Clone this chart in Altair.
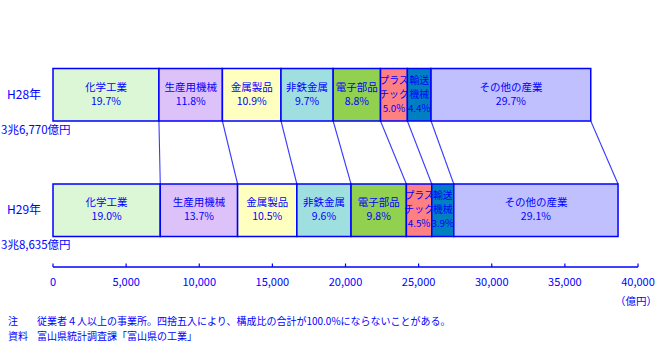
import altair as alt
import pandas as pd

# ---------------- data ----------------
years = ["H28年", "H29年"]
total_labels = ["3兆6,770億円", "3兆8,635億円"]
totals = [36770, 38635]
categories = ["化学工業", "生産用機械", "金属製品", "非鉄金属", "電子部品",
              "プラスチック", "輸送機械", "その他の産業"]
display_names = ["化学工業", "生産用機械", "金属製品", "非鉄金属", "電子部品",
                 "プラス\nチック", "輸送\n機械", "その他の産業"]
pct_h28 = [19.7, 11.8, 10.9, 9.7, 8.8, 5.0, 4.4, 29.7]
pct_h29 = [19.0, 13.7, 10.5, 9.6, 9.8, 4.5, 3.9, 29.1]
x_ticks = [0, 5000, 10000, 15000, 20000, 25000, 30000, 35000, 40000]
note_heads = ["注", "資料"]
note_texts = ["従業者４人以上の事業所。四捨五入により、構成比の合計が100.0%にならないことがある。",
              "富山県統計調査課「富山県の工業」"]
unit_label = "（億円）"

# ---------------- styles / layout ----------------
colors = ["#dcf7d6", "#dcc2f8", "#ffffc0", "#a0dfe0", "#92d050",
          "#ff8080", "#0080c0", "#c0c0ff"]
BLUE = "#0000ff"
FONT = "Noto Sans CJK JP"
bar_top = [68.5, 184.0]
bar_bottom = [121.0, 236.5]
axis_y = 267.0
LINE_H = 14.0
PLOT_W, PLOT_H = 585, 267

# ---------------- tables ----------------
rows = []
text_rows = []
ends = []
for yi, (yr, tot, pcts) in enumerate(zip(years, totals, [pct_h28, pct_h29])):
    s = sum(pcts)
    cum = 0.0
    e_list = []
    ymid = (bar_top[yi] + bar_bottom[yi]) / 2
    for cat, dn, p in zip(categories, display_names, pcts):
        v = tot * p / s
        rows.append(dict(year=yr, cat=cat, start=cum, end=cum + v,
                         top=bar_top[yi], bottom=bar_bottom[yi]))
        lines = dn.split("\n") + [f"{p:.1f}%"]
        n = len(lines)
        for k, ln in enumerate(lines):
            text_rows.append(dict(mid=cum + v / 2,
                                  yl=ymid + (k - (n - 1) / 2) * LINE_H,
                                  t=ln, narrow=(n > 2)))
        cum += v
        e_list.append(cum)
    ends.append(e_list)
seg = pd.DataFrame(rows)
seg_text = pd.DataFrame(text_rows)
wide_text = seg_text[~seg_text["narrow"]].drop(columns="narrow")
narrow_text = seg_text[seg_text["narrow"]].drop(columns="narrow")

conn = pd.DataFrame(dict(xa=ends[0], xb=ends[1],
                         ya=[bar_bottom[0]] * len(categories),
                         yb=[bar_top[1]] * len(categories)))

ticks = pd.DataFrame(dict(v=x_ticks, y0=[axis_y - 3.5] * len(x_ticks),
                          y1=[axis_y] * len(x_ticks),
                          ylab=[axis_y + 16] * len(x_ticks),
                          lab=[f"{t:,}" for t in x_ticks]))
base_df = pd.DataFrame(dict(a=[0], b=[40000], y=[axis_y]))

years_df = pd.DataFrame(dict(year=years, tl=total_labels,
                             ymid=[(t + b) / 2 for t, b in zip(bar_top, bar_bottom)],
                             ytot=[b + 9.5 for b in bar_bottom]))
notes_df = pd.DataFrame(dict(h=note_heads, t=note_texts, yy=[322, 337]))
unit_df = pd.DataFrame(dict(t=[unit_label], x=[40000], yy=[axis_y + 35]))

xs = alt.Scale(domain=[0, 40000], nice=False, zero=False)
ys = alt.Scale(domain=[0, PLOT_H], reverse=True, nice=False, zero=False)


def X(f):
    return alt.X(f, type="quantitative", scale=xs, axis=None)


def Y(f):
    return alt.Y(f, type="quantitative", scale=ys, axis=None)


bars = alt.Chart(seg).mark_rect(stroke=BLUE, strokeWidth=1.5).encode(
    x=X("start"), x2="end", y=Y("top"), y2="bottom",
    fill=alt.Fill("cat:N", scale=alt.Scale(domain=categories, range=colors), legend=None),
)

labels = alt.Chart(wide_text).mark_text(
    font=FONT, fontSize=10.5, color=BLUE, align="center", baseline="middle",
).encode(x=X("mid"), y=Y("yl"), text="t:N")

labels_narrow = alt.Chart(narrow_text).mark_text(
    font=FONT, fontSize=9.8, color=BLUE, align="center", baseline="middle",
).encode(x=X("mid"), y=Y("yl"), text="t:N")

connectors = alt.Chart(conn).mark_rule(color="#3a3aff", strokeWidth=1.1).encode(
    x=X("xa"), x2="xb", y=Y("ya"), y2="yb",
)

baseline = alt.Chart(base_df).mark_rule(color=BLUE, strokeWidth=1.5).encode(
    x=X("a"), x2="b", y=Y("y"),
)
tick_marks = alt.Chart(ticks).mark_rule(color=BLUE, strokeWidth=1.2).encode(
    x=X("v"), y=Y("y0"), y2="y1",
)
tick_labels = alt.Chart(ticks).mark_text(
    font=FONT, fontSize=11, color=BLUE, align="center", baseline="middle",
).encode(x=X("v"), y=Y("ylab"), text="lab:N")

unit = alt.Chart(unit_df).mark_text(
    font=FONT, fontSize=10.5, color=BLUE, align="right", baseline="middle", dx=19,
).encode(x=X("x"), y=Y("yy"), text="t:N")

year_text = alt.Chart(years_df).mark_text(
    font=FONT, fontSize=12, color=BLUE, align="left", baseline="middle", dx=-46,
).encode(x=alt.value(0), y=Y("ymid"), text="year:N")

total_text = alt.Chart(years_df).mark_text(
    font=FONT, fontSize=11.5, color=BLUE, align="left", baseline="middle", dx=-52,
).encode(x=alt.value(0), y=Y("ytot"), text="tl:N")

note_h = alt.Chart(notes_df).mark_text(
    font=FONT, fontSize=10, color=BLUE, align="left", baseline="middle", dx=-45,
).encode(x=alt.value(0), y=Y("yy"), text="h:N")
note_t = alt.Chart(notes_df).mark_text(
    font=FONT, fontSize=10, color=BLUE, align="left", baseline="middle", dx=-16,
).encode(x=alt.value(0), y=Y("yy"), text="t:N")

chart = alt.layer(
    connectors, bars, labels, labels_narrow, baseline, tick_marks, tick_labels, unit,
    year_text, total_text, note_h, note_t,
).properties(
    width=PLOT_W, height=PLOT_H,
    autosize=alt.AutoSizeParams(type="none"),
    padding={"left": 53, "top": 0, "right": 27, "bottom": 89},
    background="white",
).configure_view(stroke=None)

chart.save("out.html", embed_options={"renderer": "svg", "actions": False})
